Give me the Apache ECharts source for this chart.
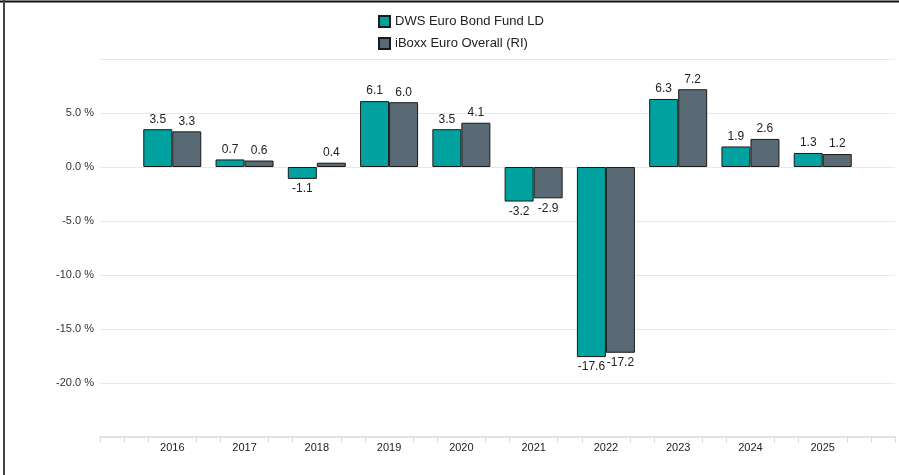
<!DOCTYPE html>
<html>
<head>
<meta charset="utf-8">
<script src="https://cdn.jsdelivr.net/npm/echarts@6/dist/echarts.min.js"></script>
<style>
  html, body { margin: 0; padding: 0; background: #fff; }
  #chart { width: 899px; height: 475px; }
</style>
</head>
<body>
<div id="chart"></div>
<script>
const years = [2016, 2017, 2018, 2019, 2020, 2021, 2022, 2023, 2024, 2025]
const fund = [3.5, 0.7, -1.1, 6.1, 3.5, -3.2, -17.6, 6.3, 1.9, 1.3]
const index = [3.3, 0.6, 0.4, 6.0, 4.1, -2.9, -17.2, 7.2, 2.6, 1.2]
const seriesNames = ['DWS Euro Bond Fund LD', 'iBoxx Euro Overall (RI)']
const colors = ['#00a19f', '#5a6a75']

// small ticks at every third of a year, none under the labels
const tickValues = []
for (let y = years[0] - 1; y <= years[years.length - 1]; y++) {
  if (!years.includes(y)) tickValues.push(y)
  tickValues.push(y + 1 / 3, y + 2 / 3)
}
tickValues.push(years[years.length - 1] + 1)

function toData(vals) {
  return vals.map((v, i) => ({
    value: [years[i], v],
    label: { position: v < 0 ? 'bottom' : 'top' }
  }))
}

const chart = echarts.init(document.getElementById('chart'))
const barStyle = (c) => ({ color: c, borderColor: '#1a1a1a', borderWidth: 1 })
const labelStyle = {
  show: true,
  distance: 4,
  fontFamily: 'Liberation Sans, Arial',
  fontSize: 12,
  color: '#222',
  formatter: (p) => p.value[1].toFixed(1)
}

chart.setOption({
  animation: false,
  textStyle: { fontFamily: 'Liberation Sans, Arial' },
  legend: {
    orient: 'vertical',
    left: 373,
    top: 10,
    itemWidth: 11,
    itemHeight: 11,
    itemGap: 9,
    icon: 'rect',
    textStyle: { fontSize: 13, color: '#222' },
    data: seriesNames
  },
  grid: { left: 100, right: 4, top: 59, bottom: 38 },
  xAxis: {
    type: 'value',
    min: years[0] - 1,
    max: years[years.length - 1] + 1,
    interval: 1,
    splitLine: { show: false },
    axisLine: { show: true, onZero: false, lineStyle: { color: '#e3e3e3', width: 2 } },
    axisTick: { show: true, length: 6, customValues: tickValues, lineStyle: { color: '#dcdcdc', width: 1 } },
    axisLabel: { customValues: years, fontSize: 11, color: '#222', margin: 5, formatter: (v) => String(v) }
  },
  yAxis: {
    type: 'value',
    min: -25,
    max: 10,
    interval: 5,
    axisLine: { show: false },
    axisTick: { show: false },
    axisLabel: {
      showMinLabel: false,
      showMaxLabel: false,
      fontSize: 11,
      color: '#333',
      margin: 6,
      formatter: (v) => v.toFixed(1) + ' %'
    },
    splitLine: { lineStyle: { color: '#e8e8e8', width: 1 } }
  },
  series: [
    {
      name: seriesNames[0],
      type: 'bar',
      barWidth: 29,
      barGap: '0%',
      itemStyle: barStyle(colors[0]),
      label: labelStyle,
      data: toData(fund)
    },
    {
      name: seriesNames[1],
      type: 'bar',
      barWidth: 29,
      barGap: '0%',
      itemStyle: barStyle(colors[1]),
      label: labelStyle,
      data: toData(index)
    }
  ],
  graphic: [
    { type: 'line', shape: { x1: 0, y1: 1.5, x2: 899, y2: 1.5 }, style: { stroke: '#111', lineWidth: 2 } },
    { type: 'line', shape: { x1: 4, y1: 0, x2: 4, y2: 475 }, style: { stroke: '#444', lineWidth: 2 } }
  ]
})
</script>
</body>
</html>
